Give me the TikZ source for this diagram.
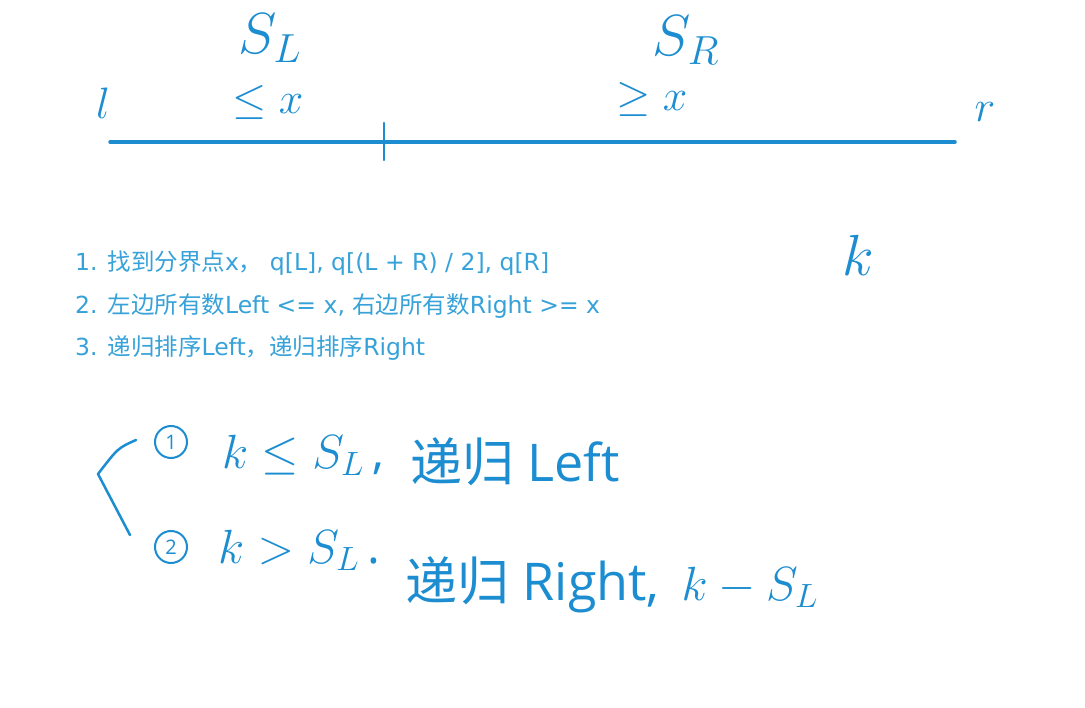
\RequirePackage{fix-cm}
\documentclass[tikz,border=0pt]{standalone}
\usepackage{fontspec}
\setmainfont{DejaVu Sans}
\newfontfamily\cjk{Noto Sans CJK SC}
\newfontfamily\pen{Open Sans}
\usepackage{xcolor}
\usepackage{tikz}
\usetikzlibrary{positioning,calc}
\definecolor{penblue}{HTML}{1B8DD0}
\definecolor{typeblue}{HTML}{36A2D9}

\begin{document}
\begin{tikzpicture}[
  x=1pt, y=-1pt,
  pen/.style={penblue, line width=3.5pt, line cap=round},
  thinpen/.style={penblue, line width=2.5pt, line cap=round, line join=round},
  hand/.style={text=penblue, inner sep=0pt, font=\fontsize{44}{50}\selectfont},
  bighand/.style={hand, font=\fontsize{58}{60}\selectfont},
  casetext/.style={hand, anchor=west, font=\pen\fontsize{52}{56}\selectfont},
  rule/.style={text=typeblue, anchor=west, inner sep=0pt, font=\fontsize{23.5}{25}\selectfont},
  num/.style={circle, draw=penblue, line width=2pt, text=penblue, inner sep=1pt, minimum size=32pt, font=\pen\fontsize{20}{22}\selectfont},
  ]
  \useasboundingbox (0,0) rectangle (1085,708);
  \fill[white] (0,0) rectangle (1085,708);

  % the segment
  \coordinate (segl) at (110,142);
  \coordinate (segr) at (955,142);
  \coordinate (cut) at (384,142);
  \draw[pen] (segl) -- (segr);
  \draw[thinpen] ($(cut)+(0,-19)$) -- ($(cut)+(0,18)$);

  \node[hand] (lend) at (103,103) {$l$};
  \node[hand] (rend) at (985,112) {$r$};
  \node[bighand] (sl) at (270,38) {$S_L$};
  \node[bighand] (sr) at (686,40) {$S_R$};
  \node[hand] (le) at (268,103) {$\leq x$};
  \node[hand] (ge) at (652,100) {$\geq x$};
  \node[bighand] (k) at (858,255) {$k$};

  % typed steps
  \node[rule] (s1) at (75,263) {1. {\cjk 找到分界点}x{\cjk ，} q[L], q[(L + R) / 2], q[R]};
  \node[rule] (s2) at (75,306) {2. {\cjk 左边所有数}Left <= x, {\cjk 右边所有数}Right >= x};
  \node[rule] (s3) at (75,348) {3. {\cjk 递归排序}Left{\cjk ，递归排序}Right};

  % the two cases
  \coordinate (brtop) at (136,440);
  \coordinate (brmid) at (98,474);
  \coordinate (brbot) at (130,535);
  \draw[thinpen] (brtop) .. controls (118,448) .. (brmid) -- (brbot);

  \node[num] (c1) at (171,442) {1};
  \node[casetext] (c1a) at (222,455) {\fontsize{48}{50}\selectfont$k \leq S_L$\,,};
  \node[casetext] (c1b) at (410,462) {{\cjk 递归} Left};

  \node[num] (c2) at (171,547) {2};
  \node[casetext] (c2a) at (218,550) {\fontsize{48}{50}\selectfont$k > S_L$\,.};
  \node[casetext] (c2b) at (405,585) {{\cjk 递归} Right,\hspace{22pt}\fontsize{48}{50}\selectfont$k - S_L$};
\end{tikzpicture}
\end{document}
